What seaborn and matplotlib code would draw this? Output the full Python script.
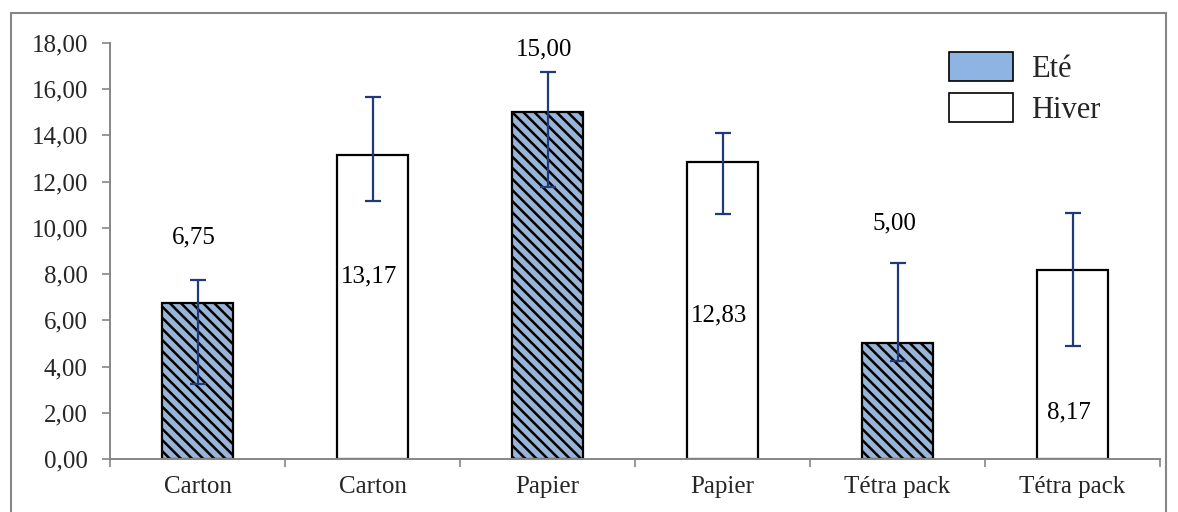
import matplotlib
matplotlib.use("Agg")
import matplotlib.pyplot as plt
from matplotlib.patches import Rectangle, Patch
import seaborn as sns
import pandas as pd
import numpy as np

# Data
materials = ["Carton", "Carton", "Papier", "Papier", "Tétra pack", "Tétra pack"]
seasons = ["Eté", "Hiver", "Eté", "Hiver", "Eté", "Hiver"]
means = [6.75, 13.17, 15.00, 12.83, 5.00, 8.17]
err_low = [3.25, 11.15, 11.75, 10.60, 4.25, 4.90]
err_high = [7.75, 15.67, 16.75, 14.10, 8.50, 10.65]
y_ticks = [0, 2, 4, 6, 8, 10, 12, 14, 16, 18]

# Layout of value labels (data y where each label sits)
label_y = [9.6, 7.9, 17.7, 6.2, 10.2, 2.0]

sns.set_theme(style="white")
plt.rcParams["font.family"] = ["Liberation Serif", "DejaVu Serif"]
plt.rcParams["hatch.linewidth"] = 1.8
plt.rcParams["hatch.color"] = "#1a1a1a"

fig = plt.figure(figsize=(11.78, 5.12), dpi=100)
ax = fig.add_axes([110 / 1178, 53 / 512, 1050 / 1178, 416 / 512])

df = pd.DataFrame({
    "pos": list(range(len(means))),
    "season": seasons,
    "value": means,
})
palette = {"Eté": "#8DB4E2", "Hiver": "#FFFFFF"}
sns.barplot(data=df, x="pos", y="value", hue="season", palette=palette,
            dodge=False, width=0.41, edgecolor="black", linewidth=1.6,
            errorbar=None, legend=False, ax=ax, zorder=2)

for bar in ax.patches:
    fc = bar.get_facecolor()
    if fc[0] < 0.9:
        bar.set_hatch("\\\\\\")

xs = np.arange(len(means))
means_a = np.array(means)
yerr = np.vstack([means_a - np.array(err_low), np.array(err_high) - means_a])
ax.errorbar(xs, means_a, yerr=yerr, fmt="none", ecolor="#1F3A7A",
            elinewidth=1.6, capsize=6, capthick=1.6, zorder=3)

for x, v, ly in zip(xs, means, label_y):
    ax.text(x - 0.02, ly, f"{v:.2f}".replace(".", ","), ha="center",
            va="center", fontsize=18, color="black", zorder=4)

ax.set_xlim(-0.5, len(means) - 0.5)
ax.set_ylim(0, 18)
ax.set_yticks(y_ticks)
ax.set_yticklabels([f"{t:.2f}".replace(".", ",") for t in y_ticks], fontsize=18)
ax.set_xticks(xs)
ax.set_xticklabels(materials, fontsize=18)
ax.set_xticks(np.arange(-0.5, len(means), 1.0), minor=True)
ax.tick_params(axis="x", which="major", length=0, pad=12)
ax.tick_params(axis="x", which="minor", length=6, width=1.2, color="#868686",
               direction="out", bottom=True)
ax.tick_params(axis="y", length=6, width=1.2, color="#868686", direction="out",
               left=True, pad=10)
ax.set_xlabel("")
ax.set_ylabel("")
for side in ["top", "right"]:
    ax.spines[side].set_visible(False)
for side in ["left", "bottom"]:
    ax.spines[side].set_color("#868686")
    ax.spines[side].set_linewidth(1.4)

handles = [Patch(facecolor="#8DB4E2", edgecolor="black", linewidth=1.2, label="Eté"),
           Patch(facecolor="white", edgecolor="black", linewidth=1.2, label="Hiver")]
ax.legend(handles=handles, loc="upper left", bbox_to_anchor=(0.787, 1.008),
          frameon=False, fontsize=22, handlelength=2.1, handleheight=1.1,
          handletextpad=0.6, labelspacing=0.3, borderaxespad=0)

# Outer chart frame
fig.add_artist(Rectangle((11 / 1178, -0.02), 1155 / 1178, 1 - 13 / 512 + 0.02,
                         transform=fig.transFigure, fill=False,
                         edgecolor="#868686", linewidth=1.5))

fig.savefig("out.png", dpi=100)
